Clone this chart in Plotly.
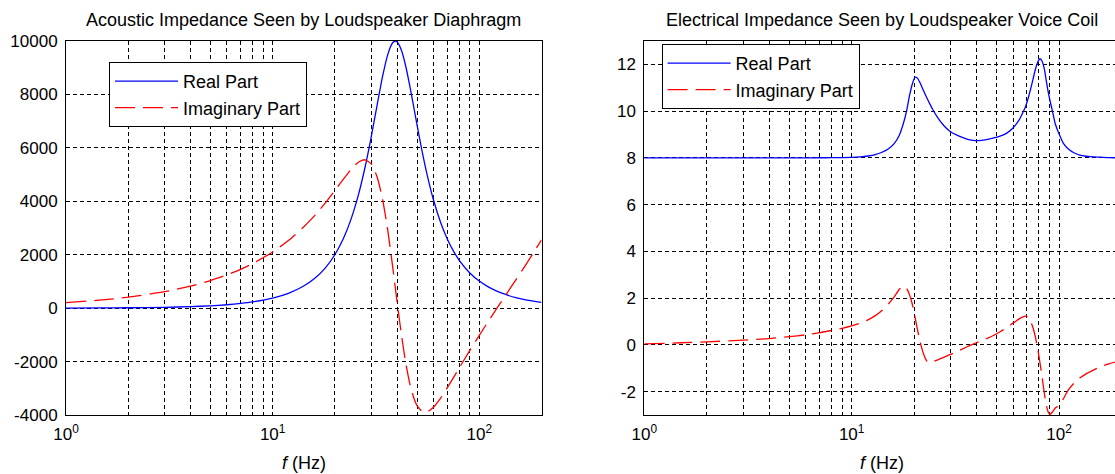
import math
import plotly.graph_objects as go

# ---------------- data ----------------
freq_acoustic = [1, 1.5, 2, 3, 4, 5, 6, 7, 8, 10, 12, 14, 16, 18, 20, 22, 24, 26, 28, 30,
                 32, 34, 36, 38, 39.2, 40, 42, 44, 46, 48, 50, 53, 56, 60, 65, 70, 75, 80,
                 90, 100, 110, 120, 135, 150, 170, 200]
real_acoustic = [3, 8, 14, 31, 56, 88, 127, 176, 233, 376, 565, 809, 1119, 1509, 1999, 2605,
                 3350, 4239, 5274, 6414, 7584, 8653, 9473, 9926, 10000, 9969, 9650, 9074,
                 8357, 7595, 6849, 5834, 4973, 4056, 3206, 2590, 2136, 1792, 1318, 1013, 805,
                 656, 502, 397, 302, 214]
imag_acoustic = [205, 308, 410, 616, 823, 1032, 1242, 1453, 1667, 2103, 2550, 3008, 3472,
                 3940, 4400, 4829, 5200, 5463, 5553, 5398, 4921, 4095, 2955, 1613, 784, 244,
                 -999, -2019, -2785, -3314, -3646, -3871, -3880, -3711, -3368, -2982, -2599,
                 -2236, -1583, -1017, -521, -77, 517, 1048, 1688, 2554]

freq_electrical = [1, 1.5, 2, 3, 4, 5, 6, 7, 8, 9, 10, 11, 12, 13, 14, 15, 16, 17, 17.8, 18.4,
                   19, 19.6, 20.2, 20.8, 21.4, 22.2, 23, 23.6, 24.5, 26, 28, 30, 33, 36, 38.5,
                   41, 44, 48, 52, 56, 60, 64, 67, 69, 71, 73, 75, 77, 79, 81, 83, 85, 87, 89,
                   90.5, 93, 96, 100, 105, 111, 118, 126, 135, 142, 158, 175, 200]
real_electrical = [8.0, 8.0, 8.0, 8.0, 8.0, 8.0, 8.0, 8.005, 8.008, 8.012, 8.02, 8.04, 8.08,
                   8.14, 8.24, 8.38, 8.6, 8.98, 9.5, 10.0, 10.65, 11.15, 11.45, 11.4, 11.2,
                   10.88, 10.58, 10.38, 10.1, 9.72, 9.35, 9.12, 8.93, 8.8, 8.75, 8.74, 8.77,
                   8.84, 8.93, 9.06, 9.28, 9.6, 9.95, 10.2, 10.55, 10.95, 11.38, 11.8, 12.1,
                   12.24, 12.12, 11.8, 11.25, 10.75, 10.45, 10.0, 9.45, 9.03, 8.62, 8.38, 8.22,
                   8.12, 8.07, 8.05, 8.03, 8.01, 8.0]
imag_electrical = [0.04, 0.09, 0.13, 0.2, 0.27, 0.35, 0.43, 0.52, 0.62, 0.71, 0.81, 0.93, 1.07,
                   1.25, 1.47, 1.74, 2.04, 2.38, 2.52, 2.42, 2.15, 1.75, 1.2, 0.62, 0.12, -0.38,
                   -0.68, -0.77, -0.73, -0.64, -0.52, -0.41, -0.24, -0.08, 0.03, 0.13, 0.24,
                   0.39, 0.56, 0.74, 0.93, 1.1, 1.2, 1.23, 1.17, 1.0, 0.72, 0.32, -0.18, -0.78,
                   -1.42, -2.08, -2.6, -2.9, -2.97, -2.87, -2.7, -2.6, -2.3, -1.93, -1.64,
                   -1.42, -1.24, -1.14, -0.94, -0.8, -0.67]

decade_ticks = [1, 10, 100]
decade_labels = ["10<sup>0</sup>", "10<sup>1</sup>", "10<sup>2</sup>"]
minor_grid_freqs = [2, 3, 4, 5, 6, 7, 8, 9, 20, 30, 40, 50, 60, 70, 80, 90, 200]
left_yticks = [-4000, -2000, 0, 2000, 4000, 6000, 8000, 10000]
right_yticks = [-2, 0, 2, 4, 6, 8, 10, 12]

title_left = "Acoustic Impedance Seen by Loudspeaker Diaphragm"
title_right = "Electrical Impedance Seen by Loudspeaker Voice Coil"
xlabel = "<i>f</i> (Hz)"

# ---------------- layout geometry ----------------
W, H = 1115, 474
FONT = "Liberation Sans, Arial, Helvetica, sans-serif"
BLUE, RED = "#0000ff", "#ff0000"
GRID_DASH = "4px,3px"
RED_DASH = "20px,8px"
LW = 1.3

def px_x(p):
    return p / W

def px_y(p):
    return 1 - p / H

y_dom = [px_y(415), px_y(41)]
left_dom = [px_x(66), px_x(541.5)]
right_dom = [px_x(644.3), 1.0]

fig = go.Figure()
fig.add_trace(go.Scatter(x=freq_acoustic, y=real_acoustic, mode="lines", name="Real Part",
                         line=dict(color=BLUE, width=LW, shape="spline", smoothing=0.6),
                         xaxis="x", yaxis="y", legend="legend", hoverinfo="skip"))
fig.add_trace(go.Scatter(x=freq_acoustic, y=imag_acoustic, mode="lines", name="Imaginary Part",
                         line=dict(color=RED, width=LW, dash=RED_DASH, shape="spline", smoothing=0.6),
                         xaxis="x", yaxis="y", legend="legend", hoverinfo="skip"))
fig.add_trace(go.Scatter(x=freq_electrical, y=real_electrical, mode="lines", name="Real Part",
                         line=dict(color=BLUE, width=LW, shape="spline", smoothing=0.6),
                         xaxis="x2", yaxis="y2", legend="legend2", hoverinfo="skip"))
fig.add_trace(go.Scatter(x=freq_electrical, y=imag_electrical, mode="lines", name="Imaginary Part",
                         line=dict(color=RED, width=LW, dash=RED_DASH, shape="spline", smoothing=0.6),
                         xaxis="x2", yaxis="y2", legend="legend2", hoverinfo="skip"))

grid_style = dict(gridcolor="#000000", gridwidth=1, griddash=GRID_DASH)
common_x = dict(type="log", tickmode="array", tickvals=decade_ticks, ticktext=decade_labels,
                showgrid=True, showline=True, linecolor="#000000", linewidth=1,
                ticks="", zeroline=False, tickfont=dict(size=17, color="#000000"),
                ticklabelstandoff=4, automargin=False,
                minor=dict(tickmode="array", tickvals=minor_grid_freqs, showgrid=True, ticks="",
                           **grid_style),
                **grid_style)
common_y = dict(showgrid=True, showline=True, linecolor="#000000", linewidth=1, ticks="",
                zeroline=False, tickfont=dict(size=17, color="#000000"), ticklabelstandoff=4,
                tickmode="array", automargin=False, **grid_style)

legend_common = dict(bordercolor="#000000", borderwidth=1, bgcolor="#ffffff",
                     font=dict(size=18, color="#000000", family=FONT), xanchor="left",
                     yanchor="top", tracegroupgap=0, itemwidth=63, itemclick=False)

fig.update_layout(
    width=W, height=H, margin=dict(l=0, r=0, t=0, b=0, pad=0, autoexpand=False),
    paper_bgcolor="#ffffff", plot_bgcolor="#ffffff",
    font=dict(family=FONT, color="#000000", size=17),
    showlegend=True,
    xaxis=dict(domain=left_dom, range=[0, math.log10(200)], anchor="y", mirror=True, **common_x),
    yaxis=dict(domain=y_dom, range=[-4000, 10000], anchor="x", mirror=True,
               tickvals=left_yticks, ticktext=[str(v) for v in left_yticks], **common_y),
    xaxis2=dict(domain=right_dom, range=[0, (1115 - 644.3) / 207.35], anchor="y2", mirror=True, **common_x),
    yaxis2=dict(domain=y_dom, range=[-3, 13], anchor="x2", mirror=False,
                tickvals=right_yticks, ticktext=[str(v) for v in right_yticks], **common_y),
    legend=dict(x=px_x(109), y=px_y(62), **legend_common),
    legend2=dict(x=px_x(661.6), y=px_y(44), **legend_common),
    annotations=[
        dict(text=title_left, x=(left_dom[0] + left_dom[1]) / 2, y=px_y(20), xref="paper", yref="paper",
             xanchor="center", yanchor="middle", showarrow=False, font=dict(size=18)),
        dict(text=title_right, x=px_x(881.5), y=px_y(20), xref="paper", yref="paper",
             xanchor="center", yanchor="middle", showarrow=False, font=dict(size=18)),
        dict(text=xlabel, x=(left_dom[0] + left_dom[1]) / 2, y=px_y(463), xref="paper", yref="paper",
             xanchor="center", yanchor="middle", showarrow=False, font=dict(size=18)),
        dict(text=xlabel, x=px_x(881.5), y=px_y(463), xref="paper", yref="paper",
             xanchor="center", yanchor="middle", showarrow=False, font=dict(size=18)),
    ],
)

# remove the default 8px page margin synchronously (so the page is exactly the figure size)
reset_page = "}); document.body.style.margin='0'; document.body.style.overflow='hidden'; (function(){"
fig.write_html("out.html", config={"displayModeBar": False}, post_script=reset_page)
